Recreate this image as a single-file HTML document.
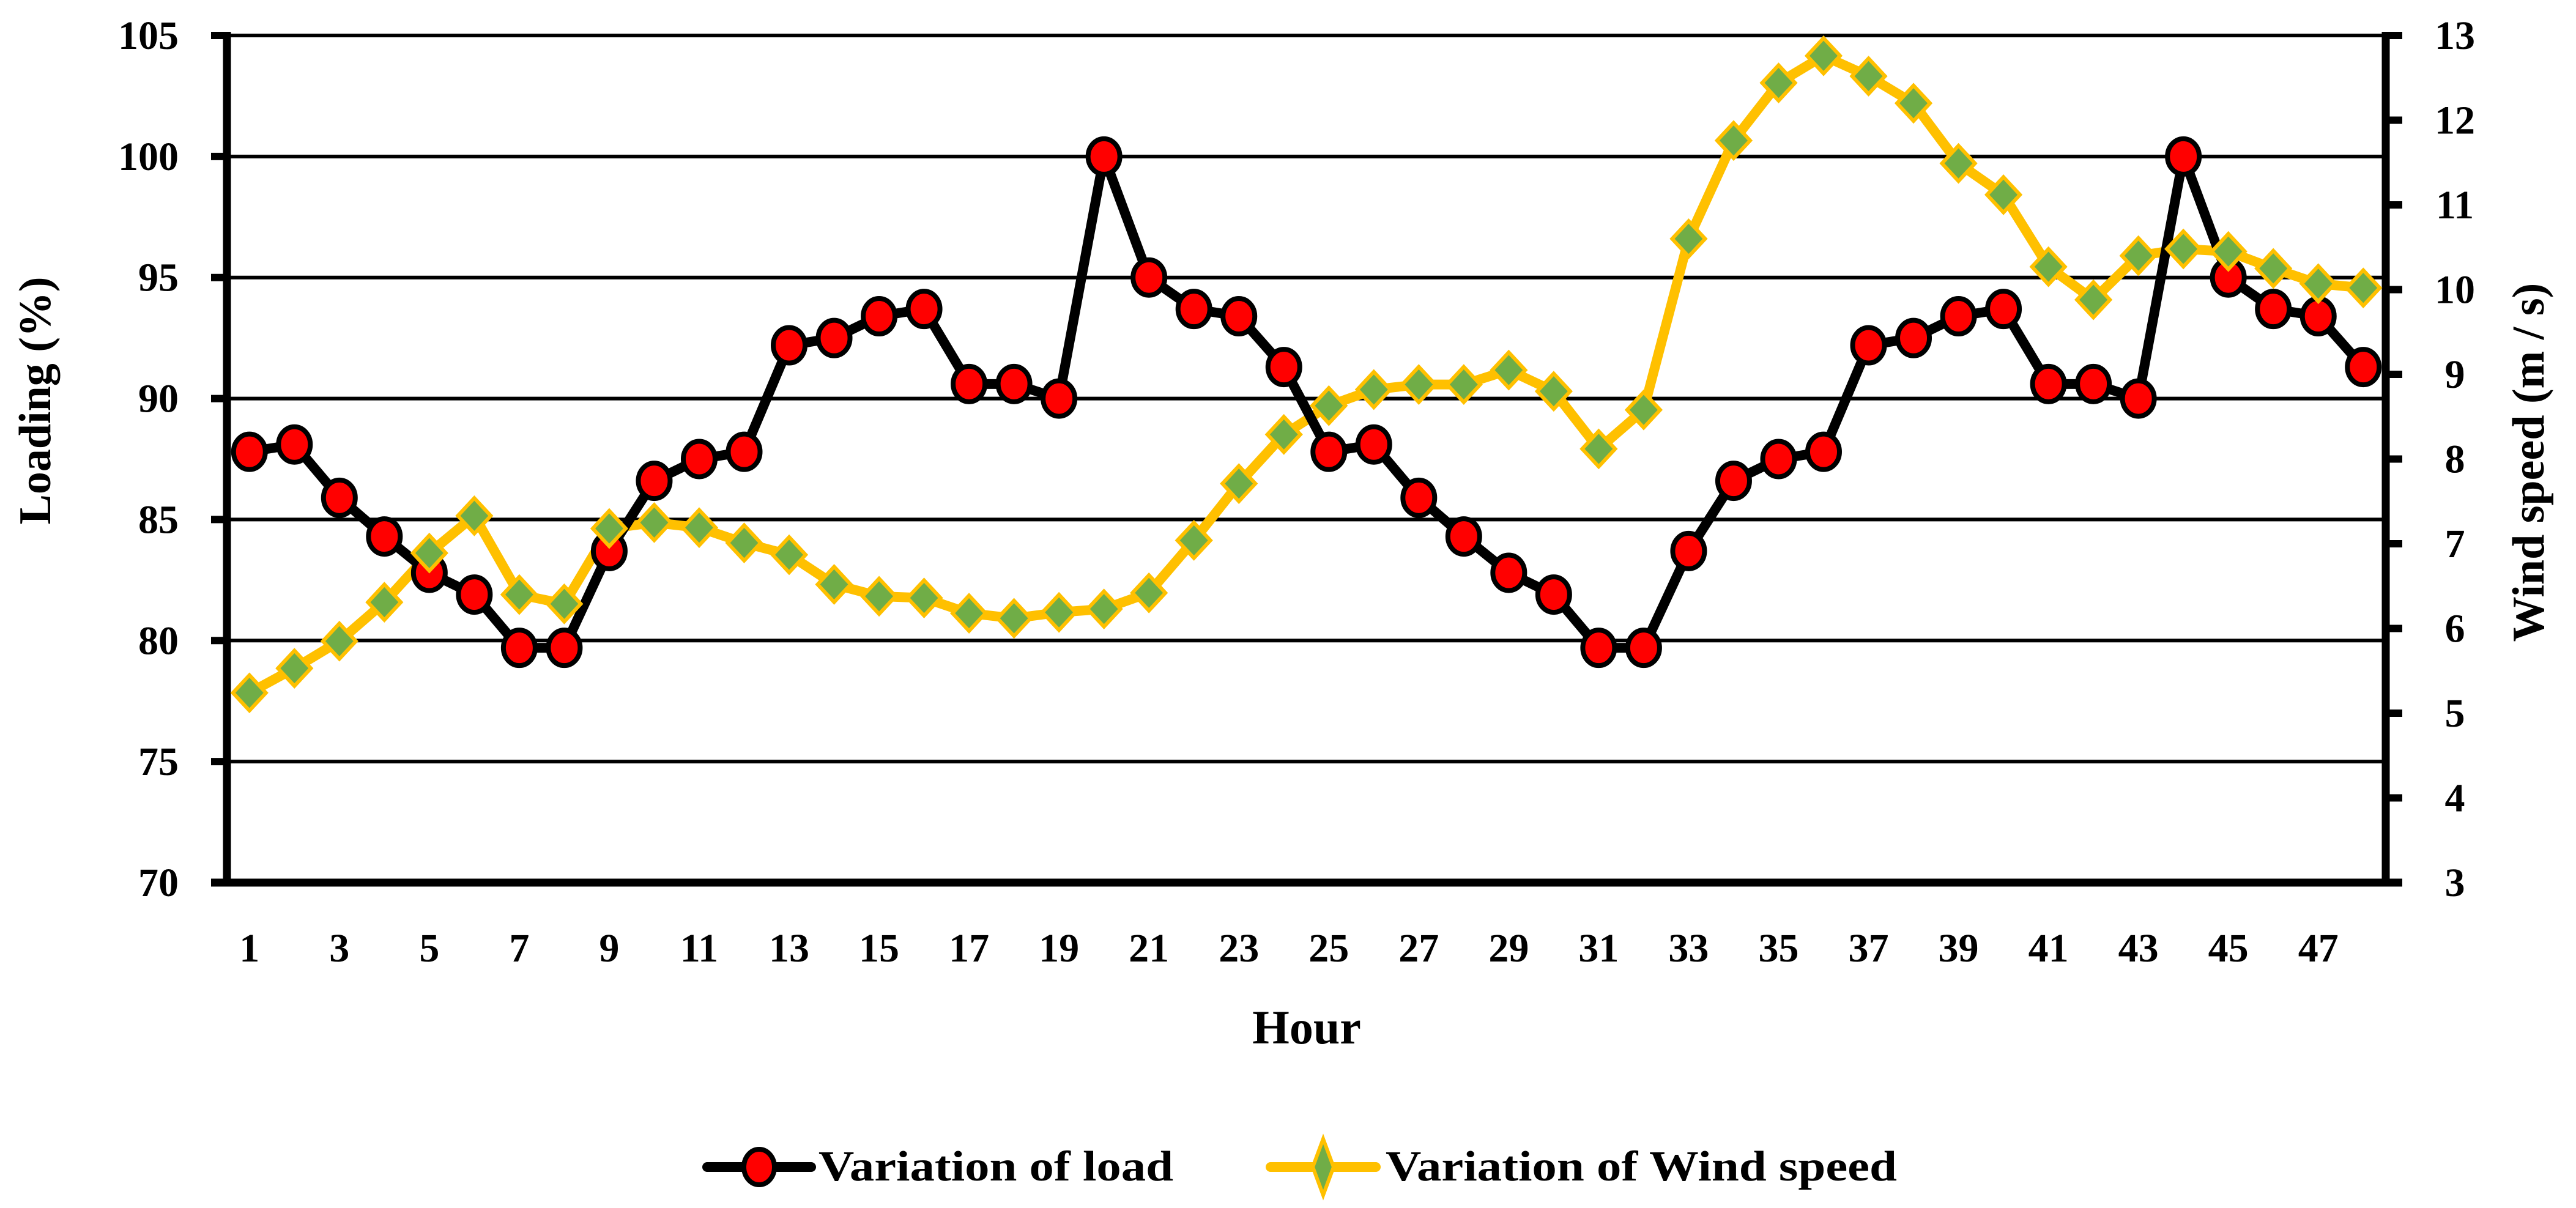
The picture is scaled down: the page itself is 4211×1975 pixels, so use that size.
<!DOCTYPE html>
<html><head><meta charset="utf-8"><style>
html,body{margin:0;padding:0;background:#fff;}
svg{display:block;font-family:"Liberation Serif",serif;font-weight:bold;}
</style></head><body>
<svg id="chart" width="4211" height="1975" viewBox="0 0 4211 1975" xmlns="http://www.w3.org/2000/svg">
<g id="grid"></g>
<g id="axes"></g>
<g id="series"></g>
<text x="0" y="0" transform="translate(82,655) rotate(-90)" text-anchor="middle" font-size="74">Loading (%)</text>
<text x="0" y="0" transform="translate(4158,756) rotate(-90)" text-anchor="middle" font-size="74">Wind speed (m / s)</text>
<text x="2136" y="1706" text-anchor="middle" font-size="78">Hour</text>
<g>
 <g>
  <line x1="1156" y1="1908" x2="1326" y2="1908" stroke="#000" stroke-width="16" stroke-linecap="round"/>
  <ellipse cx="1241" cy="1908" rx="25" ry="29" fill="#ff0000" stroke="#000" stroke-width="8"/>
  <text x="1338" y="1930" font-size="70" textLength="580" lengthAdjust="spacingAndGlyphs">Variation of load</text>
 </g>
 <g>
  <line x1="2077" y1="1908" x2="2249" y2="1908" stroke="#FFC000" stroke-width="16" stroke-linecap="round"/>
  <polygon points="2163,1862 2180,1908 2163,1954 2146,1908" fill="#70AD47" stroke="#FFC000" stroke-width="6"/>
  <text x="2265" y="1930" font-size="70" textLength="836" lengthAdjust="spacingAndGlyphs">Variation of Wind speed</text>
 </g>
</g>
</svg>
<script>
const hours = Array.from({length:48},(_,i)=>i+1);
const loadValues = [87.8,88.1,85.9,84.3,82.8,81.9,79.7,79.7,83.7,86.6,87.5,87.8,92.2,92.5,93.4,93.7,90.6,90.6,90.0,100,95.0,93.7,93.4,91.3,
87.8,88.1,85.9,84.3,82.8,81.9,79.7,79.7,83.7,86.6,87.5,87.8,92.2,92.5,93.4,93.7,90.6,90.6,90.0,100,95.0,93.7,93.4,91.3];
const windValues = [5.24,5.53,5.85,6.31,6.89,7.33,6.40,6.29,7.18,7.25,7.19,7.01,6.87,6.52,6.38,6.36,6.18,6.12,6.19,6.23,6.42,7.04,7.71,8.29,
8.63,8.82,8.88,8.88,9.05,8.80,8.12,8.58,10.60,11.76,12.44,12.76,12.52,12.20,11.49,11.12,10.27,9.88,10.40,10.48,10.45,10.25,10.07,10.02];
const leftTicks = [70,75,80,85,90,95,100,105];
const rightTicks = [3,4,5,6,7,8,9,10,11,12,13];
const xTickLabels = [1,3,5,7,9,11,13,15,17,19,21,23,25,27,29,31,33,35,37,39,41,43,45,47];

const NS="http://www.w3.org/2000/svg";
const X0=371,X1=3900,Y0=58,Y1=1443;
const xs=h=>X0+(h-0.5)*(X1-X0)/48;
const yL=v=>Y1-(v-70)/(105-70)*(Y1-Y0);
const yR=v=>Y1-(v-3)/(13-3)*(Y1-Y0);
function mk(tag,attrs,parent){const e=document.createElementNS(NS,tag);for(const k in attrs)e.setAttribute(k,attrs[k]);parent.appendChild(e);return e;}
const grid=document.getElementById('grid'),axes=document.getElementById('axes'),series=document.getElementById('series');

leftTicks.forEach(t=>{
  const y=yL(t);
  const gl=mk('line',{x1:X0,y1:y,x2:X1,y2:y,stroke:'#000','stroke-width':6},grid);
  
  
  mk('line',{x1:345,y1:y,x2:X0,y2:y,stroke:'#000','stroke-width':12},axes);
  const tx=mk('text',{x:292,y:y+22,'text-anchor':'end','font-size':66},axes);
  tx.textContent=t;
  
  
});
rightTicks.forEach(t=>{
  const y=yR(t);
  mk('line',{x1:X1,y1:y,x2:3927,y2:y,stroke:'#000','stroke-width':12},axes);
  const tx=mk('text',{x:4013,y:y+22,'text-anchor':'middle','font-size':66},axes);
  tx.textContent=t;
  
  
});
const la=mk('line',{x1:X0,y1:Y0-6,x2:X0,y2:Y1+6,stroke:'#000','stroke-width':13},axes);


const ra=mk('line',{x1:X1,y1:Y0-6,x2:X1,y2:Y1+6,stroke:'#000','stroke-width':13},axes);


const ba=mk('line',{x1:345,y1:Y1,x2:3927,y2:Y1,stroke:'#000','stroke-width':13},axes);


xTickLabels.forEach(h=>{
  const tx=mk('text',{x:xs(h),y:1572,'text-anchor':'middle','font-size':66},axes);
  tx.textContent=h;
  
  
});

const wl=mk('polyline',{points:hours.map((h,i)=>xs(h)+','+yR(windValues[i])).join(' '),fill:'none',stroke:'#FFC000','stroke-width':16,'stroke-linejoin':'round'},series);


const ll=mk('polyline',{points:hours.map((h,i)=>xs(h)+','+yL(loadValues[i])).join(' '),fill:'none',stroke:'#000','stroke-width':16,'stroke-linejoin':'round'},series);


hours.forEach((h,i)=>{
  const x=xs(h),y=yL(loadValues[i]);
  const c=mk('ellipse',{cx:x,cy:y,rx:26,ry:29,fill:'#ff0000',stroke:'#000','stroke-width':8},series);
  
  
});
hours.forEach((h,i)=>{
  const x=xs(h),y=yR(windValues[i]);
  const d=mk('polygon',{points:`${x},${y-29} ${x+27},${y} ${x},${y+29} ${x-27},${y}`,fill:'#70AD47',stroke:'#FFC000','stroke-width':6},series);
  
  
});
</script>
</body></html>
